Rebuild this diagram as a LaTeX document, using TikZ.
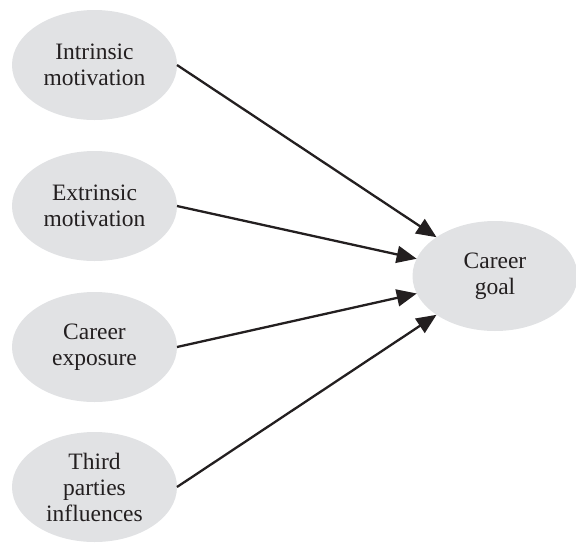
\documentclass[tikz,border=0pt]{standalone}
\usepackage{fontspec}
\setmainfont{Liberation Serif}
\usetikzlibrary{shapes.geometric,arrows.meta}
\definecolor{ellfill}{RGB}{225,226,228}
\definecolor{ink}{RGB}{35,31,32}
\tikzset{
  bubble/.style={ellipse, fill=ellfill, draw=none, inner sep=0pt, outer sep=0pt,
    minimum width=165pt, minimum height=110pt, align=center, text=ink,
    font=\fontsize{23.5pt}{26pt}\selectfont},
  link/.style={draw=ink, line width=2.3pt, -{Triangle[length=20pt,width=17pt]}}
}
\begin{document}
\begin{tikzpicture}[x=1pt,y=-1pt]
\useasboundingbox (0,0) rectangle (576,542);
\node[bubble] (im) at (94.5,65) {Intrinsic\\motivation};
\node[bubble] (em) at (94.5,206) {Extrinsic\\motivation};
\node[bubble] (ce) at (94.5,347) {Career\\exposure};
\node[bubble] (tp) at (94.5,487) {Third\\parties\\influences};
\node[bubble] (goal) at (495,276) {Career\\goal};
\draw[link] (im.east) -- (goal);
\draw[link] (em.east) -- (goal);
\draw[link] (ce.east) -- (goal);
\draw[link] (tp.east) -- (goal);
\end{tikzpicture}
\end{document}
